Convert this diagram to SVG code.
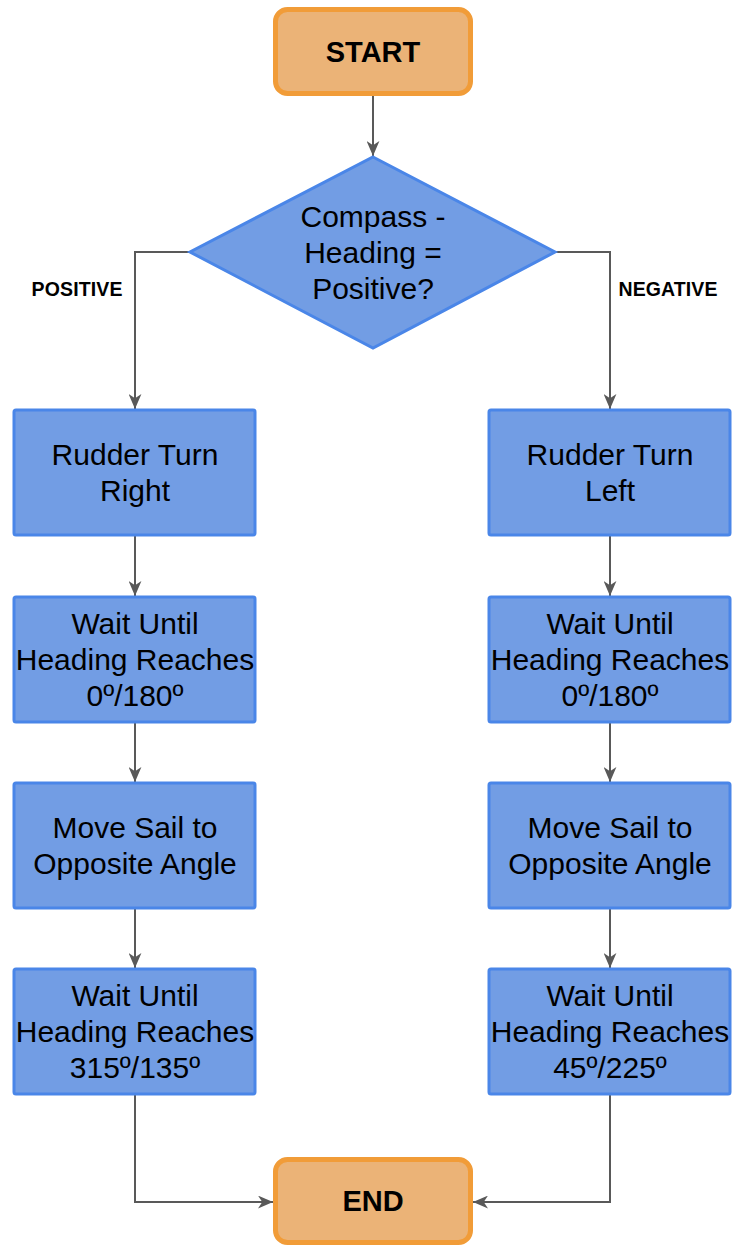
<svg xmlns="http://www.w3.org/2000/svg" width="732" height="1245" viewBox="0 0 732 1245">
<style>
.term{fill:#EBB377;stroke:#F19C38;stroke-width:5}
.proc{fill:#729DE4;stroke:#4A86E8;stroke-width:3}
.t{font-family:"Liberation Sans",Arial,sans-serif;font-size:30px;fill:#000;text-anchor:middle}
.tb{font-family:"Liberation Sans",Arial,sans-serif;font-size:29px;font-weight:bold;fill:#000;text-anchor:middle}
.lbl{font-family:"Liberation Sans",Arial,sans-serif;font-size:19.5px;font-weight:bold;fill:#000;text-anchor:middle}
.c{fill:none;stroke:#595959;stroke-width:2}
</style>
<defs>
<marker id="arr" markerUnits="userSpaceOnUse" viewBox="0 0 14 12" markerWidth="15" markerHeight="13" refX="14" refY="6" orient="auto">
<path d="M0,0 L14,6 L0,12 L4,6 Z" fill="#595959"/>
</marker>
</defs>
<rect width="732" height="1245" fill="#fff"/>
<g id="connectors">
<path class="c" d="M373,96 L373,156" marker-end="url(#arr)"/>
<path class="c" d="M190,252 L135,252 L135,409" marker-end="url(#arr)"/>
<path class="c" d="M555,252 L610,252 L610,409" marker-end="url(#arr)"/>
<path class="c" d="M135,535 L135,596" marker-end="url(#arr)"/>
<path class="c" d="M135,722 L135,782" marker-end="url(#arr)"/>
<path class="c" d="M135,908 L135,968" marker-end="url(#arr)"/>
<path class="c" d="M610,535 L610,596" marker-end="url(#arr)"/>
<path class="c" d="M610,722 L610,782" marker-end="url(#arr)"/>
<path class="c" d="M610,908 L610,968" marker-end="url(#arr)"/>
<path class="c" d="M135,1094 L135,1202 L273,1202" marker-end="url(#arr)"/>
<path class="c" d="M610,1094 L610,1202 L473,1202" marker-end="url(#arr)"/>
<text class="lbl" x="77" y="296" textLength="91">POSITIVE</text>
<text class="lbl" x="668" y="296" textLength="99">NEGATIVE</text>
</g>
<g id="start">
<rect class="term" x="275.5" y="9.5" width="195" height="84" rx="12"/>
<text class="tb" x="373" y="62">START</text>
</g>
<g id="decision">
<polygon class="proc" points="373,157 555,252 373,348 190,252"/>
<text class="t" x="373" y="227">Compass -</text>
<text class="t" x="373" y="263">Heading =</text>
<text class="t" x="373" y="299">Positive?</text>
</g>
<g id="rudder-right">
<rect class="proc" x="14" y="410" width="241" height="125" rx="2"/>
<text class="t" x="135" y="465">Rudder Turn</text>
<text class="t" x="135" y="501">Right</text>
</g>
<g id="wait-left-1">
<rect class="proc" x="14" y="597" width="241" height="125" rx="2"/>
<text class="t" x="135" y="634">Wait Until</text>
<text class="t" x="135" y="670">Heading Reaches</text>
<text class="t" x="135" y="706">0º/180º</text>
</g>
<g id="sail-left">
<rect class="proc" x="14" y="783" width="241" height="125" rx="2"/>
<text class="t" x="135" y="838">Move Sail to</text>
<text class="t" x="135" y="874">Opposite Angle</text>
</g>
<g id="wait-left-2">
<rect class="proc" x="14" y="969" width="241" height="125" rx="2"/>
<text class="t" x="135" y="1006">Wait Until</text>
<text class="t" x="135" y="1042">Heading Reaches</text>
<text class="t" x="135" y="1078">315º/135º</text>
</g>
<g id="rudder-left">
<rect class="proc" x="489" y="410" width="241" height="125" rx="2"/>
<text class="t" x="610" y="465">Rudder Turn</text>
<text class="t" x="610" y="501">Left</text>
</g>
<g id="wait-right-1">
<rect class="proc" x="489" y="597" width="241" height="125" rx="2"/>
<text class="t" x="610" y="634">Wait Until</text>
<text class="t" x="610" y="670">Heading Reaches</text>
<text class="t" x="610" y="706">0º/180º</text>
</g>
<g id="sail-right">
<rect class="proc" x="489" y="783" width="241" height="125" rx="2"/>
<text class="t" x="610" y="838">Move Sail to</text>
<text class="t" x="610" y="874">Opposite Angle</text>
</g>
<g id="wait-right-2">
<rect class="proc" x="489" y="969" width="241" height="125" rx="2"/>
<text class="t" x="610" y="1006">Wait Until</text>
<text class="t" x="610" y="1042">Heading Reaches</text>
<text class="t" x="610" y="1078">45º/225º</text>
</g>
<g id="end">
<rect class="term" x="275.5" y="1159.5" width="195" height="83" rx="12"/>
<text class="tb" x="373" y="1211">END</text>
</g>
</svg>
